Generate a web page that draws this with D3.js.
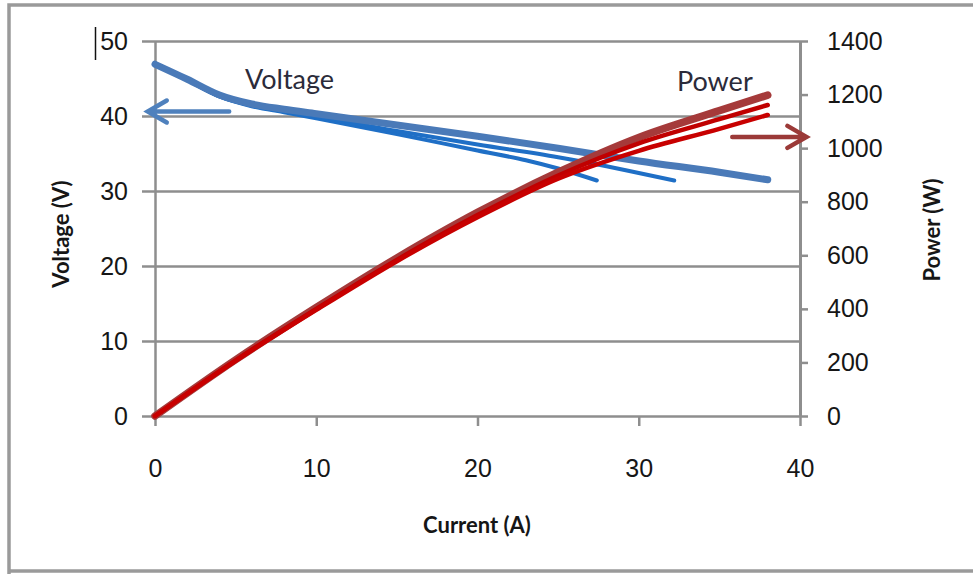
<!DOCTYPE html>
<html>
<head>
<meta charset="utf-8">
<script src="https://cdn.jsdelivr.net/npm/d3@7"></script>
<style>
  html, body { margin: 0; padding: 0; background: #fff; }
  svg { display: block; font-family: Lato, "Open Sans", sans-serif; }
</style>
</head>
<body>
<svg id="chart" width="973" height="574"></svg>
<script>
// Current axis ticks and the two value axes
const currentTicks = [0, 10, 20, 30, 40];
const voltageTicks = [0, 10, 20, 30, 40, 50];
const powerTicks = [0, 200, 400, 600, 800, 1000, 1200, 1400];

// Voltage vs current, three runs
const voltageA = [[0,46.9],[2,44.9],[4,42.8],[6,41.6],[8,40.9],[10,40.3],[15,38.8],[20,37.3],[25,35.7],[30,34.0],[35,32.5],[38,31.5]];
const voltageB = [[0,46.9],[2,44.8],[4,42.6],[6,41.4],[8,40.6],[10,39.9],[15,38.0],[20,36.2],[25,34.5],[28,33.3],[30,32.4],[32.2,31.4]];
const voltageC = [[0,46.9],[2,44.8],[4,42.6],[6,41.3],[8,40.5],[10,39.7],[15,37.6],[20,35.4],[23,34.1],[25,33.0],[27.4,31.4]];

// Power vs current, three runs
const powerA = [[0,0],[5,210],[10,405],[15,590],[20,760],[25,910],[30,1040],[35,1140],[38,1198]];
const powerB = [[0,0],[5,208],[10,400],[15,583],[20,750],[25,898],[30,1018],[35,1108],[38,1161]];
const powerC = [[0,0],[5,206],[10,396],[15,578],[20,742],[25,886],[30,990],[35,1072],[38,1124]];

const svg = d3.select("#chart");
const plot = { left: 155, right: 800, top: 41, bottom: 416 };

const x = d3.scaleLinear().domain([0, 40]).range([plot.left, plot.right]);
const yV = d3.scaleLinear().domain([0, 50]).range([plot.bottom, plot.top]);
const yP = d3.scaleLinear().domain([0, 1400]).range([plot.bottom, plot.top]);

const gridColor = "#8e8e8e";
const textColor = "#161616";
const tickFont = "25px";
const titleFont = "22px";

// Outer frame (left, top, bottom edges)
svg.append("path")
  .attr("d", "M9,574 L9,5 L973,5 M9,571 L973,571")
  .attr("fill", "none").attr("stroke", "#9a9a9a").attr("stroke-width", 3.5);

// Horizontal gridlines on the voltage ticks
svg.append("g")
  .attr("transform", `translate(${plot.left},0)`)
  .call(d3.axisLeft(yV).tickValues(voltageTicks.slice(1)).tickSize(-(plot.right - plot.left)).tickFormat(""))
  .call(g => g.select(".domain").remove())
  .call(g => g.selectAll("line").attr("stroke", gridColor).attr("stroke-width", 2.5));

// Left voltage axis
svg.append("g")
  .attr("transform", `translate(${plot.left},0)`)
  .call(d3.axisLeft(yV).tickValues(voltageTicks).tickSize(13).tickPadding(14).tickSizeOuter(0))
  .call(g => g.select(".domain").attr("stroke", gridColor).attr("stroke-width", 2.5))
  .call(g => g.selectAll("line").attr("stroke", gridColor).attr("stroke-width", 2.5))
  .call(g => g.selectAll("text").attr("fill", textColor).style("font-size", tickFont));

// Right power axis
svg.append("g")
  .attr("transform", `translate(${plot.right},0)`)
  .call(d3.axisRight(yP).tickValues(powerTicks).tickFormat(d3.format("d")).tickSize(8).tickPadding(19).tickSizeOuter(0))
  .call(g => g.select(".domain").attr("stroke", gridColor).attr("stroke-width", 3))
  .call(g => g.selectAll("line").attr("stroke", gridColor).attr("stroke-width", 2.5))
  .call(g => g.selectAll("text").attr("fill", textColor).style("font-size", tickFont));

// Bottom current axis
svg.append("g")
  .attr("transform", `translate(0,${plot.bottom})`)
  .call(d3.axisBottom(x).tickValues(currentTicks).tickSize(10).tickPadding(33).tickSizeOuter(0))
  .call(g => g.select(".domain").attr("stroke", gridColor).attr("stroke-width", 2.5))
  .call(g => g.selectAll("line").attr("stroke", gridColor).attr("stroke-width", 2.5))
  .call(g => g.selectAll("text").attr("fill", textColor).style("font-size", tickFont));

// Axis titles
svg.append("text")
  .attr("transform", "translate(69,234) rotate(-90)")
  .attr("text-anchor", "middle").attr("font-weight", "bold")
  .attr("fill", textColor).style("font-size", titleFont)
  .text("Voltage (V)");
svg.append("text")
  .attr("transform", "translate(940,230) rotate(-90)")
  .attr("text-anchor", "middle").attr("font-weight", "bold")
  .attr("fill", textColor).style("font-size", titleFont)
  .text("Power (W)");
svg.append("text")
  .attr("x", 477).attr("y", 533)
  .attr("text-anchor", "middle").attr("font-weight", "bold")
  .attr("fill", textColor).style("font-size", titleFont)
  .text("Current (A)");

// Curves
const lineV = d3.line().x(d => x(d[0])).y(d => yV(d[1])).curve(d3.curveMonotoneX);
const lineP = d3.line().x(d => x(d[0])).y(d => yP(d[1])).curve(d3.curveMonotoneX);

const series = [
  { data: voltageC, line: lineV, color: "#1f6fc6", width: 4 },
  { data: voltageB, line: lineV, color: "#1f6fc6", width: 4 },
  { data: voltageA, line: lineV, color: "#4a7ab8", width: 7 },
  { data: powerA, line: lineP, color: "#a53a3a", width: 7.5 },
  { data: powerB, line: lineP, color: "#c00000", width: 4.5 },
  { data: powerC, line: lineP, color: "#c80000", width: 4.5 }
];
svg.append("g").selectAll("path").data(series).join("path")
  .attr("d", s => s.line(s.data))
  .attr("fill", "none")
  .attr("stroke", s => s.color)
  .attr("stroke-width", s => s.width)
  .attr("stroke-linecap", "round")
  .attr("stroke-linejoin", "round");

// Series labels
svg.append("text").attr("x", 245).attr("y", 89)
  .attr("fill", "#2b2b3a").style("font-size", "27px").text("Voltage");
svg.append("text").attr("x", 677).attr("y", 91)
  .attr("fill", "#2b2b3a").style("font-size", "27px").text("Power");

// Arrows pointing to each series' axis
function arrow(x1, x2, y, color) {
  const dir = Math.sign(x2 - x1);
  svg.append("path")
    .attr("d", `M${x1},${y} L${x2},${y} M${x2 - dir * 19},${y - 11} L${x2},${y} L${x2 - dir * 19},${y + 11}`)
    .attr("fill", "none").attr("stroke", color).attr("stroke-width", 4.5)
    .attr("stroke-linecap", "round").attr("stroke-linejoin", "miter");
}
arrow(x(4.6), x(-0.45), yV(40.6), "#4f81bd");
arrow(x(35.8), x(40.4), yP(1042), "#9b3a38");

// Text cursor mark left of the top tick label
svg.append("line").attr("x1", 95.5).attr("x2", 95.5).attr("y1", 27).attr("y2", 60)
  .attr("stroke", "#111").attr("stroke-width", 1.5);
</script>
</body>
</html>
